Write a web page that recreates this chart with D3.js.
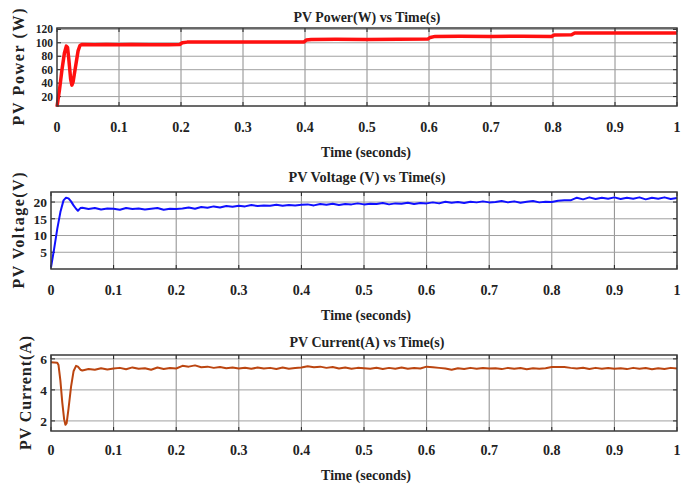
<!DOCTYPE html>
<meta charset="utf-8">
<head>
<style>
  body { margin: 0; background: #fff; }
  svg text { font-family: "Liberation Serif", "Times New Roman", "DejaVu Serif", serif; font-weight: bold; fill: #222; }
</style>
</head>
<svg id="chart" width="686" height="487" font-family="Liberation Serif"></svg>
<script src="https://d3js.org/d3.v7.min.js"></script>
<script>

// x ticks shared by all panels
var timeTicks = [0, 0.1, 0.2, 0.3, 0.4, 0.5, 0.6, 0.7, 0.8, 0.9, 1];

// PV power (W) : [time, value]
var powerData = [
  [0, 5], [0.004, 30], [0.008, 60], [0.012, 85], [0.015, 95], [0.017, 93], [0.019, 76],
  [0.022, 46], [0.024, 37], [0.026, 42], [0.03, 65], [0.034, 88], [0.037, 96], [0.04, 97.5],
  [0.06, 97], [0.08, 97.4], [0.1, 97], [0.12, 97.3], [0.15, 97], [0.18, 97.2], [0.198, 97.5],
  [0.202, 100], [0.21, 101], [0.25, 101.2], [0.3, 101], [0.35, 101.3], [0.398, 101],
  [0.402, 104], [0.41, 105], [0.45, 105.3], [0.5, 105], [0.55, 105.2], [0.598, 105.5],
  [0.602, 108], [0.61, 109.5], [0.65, 109.8], [0.7, 109.5], [0.75, 109.7], [0.798, 109.5],
  [0.802, 111.5], [0.83, 112], [0.835, 114.5], [0.9, 114.7], [0.95, 114.5], [1, 114.6]
];

// PV voltage (V)
var voltageData = [
  [0, 0.5], [0.005, 6], [0.01, 12], [0.015, 17], [0.02, 20.5], [0.024, 21.3], [0.028, 21.1],
  [0.032, 20.2], [0.036, 19], [0.04, 18], [0.043, 17.4], [0.047, 18.2],
  [0.05, 18.3], [0.06, 17.9], [0.07, 18.2], [0.08, 17.8], [0.09, 18.1], [0.1, 18.0],
  [0.11, 17.7], [0.12, 18.2], [0.13, 17.9], [0.14, 18.1], [0.15, 17.8], [0.16, 18.0],
  [0.17, 18.2], [0.18, 17.7], [0.19, 18.0], [0.2, 17.9],
  [0.21, 18.1], [0.22, 18.4], [0.23, 18.0], [0.24, 18.5], [0.25, 18.3], [0.26, 18.7],
  [0.27, 18.4], [0.28, 18.8], [0.29, 18.6], [0.3, 18.9],
  [0.31, 18.7], [0.32, 19.1], [0.33, 18.8], [0.34, 19.0], [0.35, 18.9], [0.36, 19.2],
  [0.37, 18.9], [0.38, 19.1], [0.39, 19.0], [0.4, 19.2],
  [0.41, 19.3], [0.42, 19.0], [0.43, 19.4], [0.44, 19.2], [0.45, 19.5], [0.46, 19.1],
  [0.47, 19.4], [0.48, 19.3], [0.49, 19.6], [0.5, 19.3],
  [0.51, 19.5], [0.52, 19.4], [0.53, 19.7], [0.54, 19.3], [0.55, 19.6], [0.56, 19.5],
  [0.57, 19.8], [0.58, 19.4], [0.59, 19.7], [0.6, 19.6],
  [0.61, 19.9], [0.62, 19.6], [0.63, 20.1], [0.64, 19.8], [0.65, 20.0], [0.66, 19.7],
  [0.67, 20.1], [0.68, 19.9], [0.69, 20.2], [0.7, 19.9],
  [0.71, 20.0], [0.72, 20.3], [0.73, 19.9], [0.74, 20.2], [0.75, 19.8], [0.76, 20.1],
  [0.77, 20.3], [0.78, 19.9], [0.79, 20.1], [0.8, 20.0],
  [0.81, 20.4], [0.82, 20.5], [0.83, 20.5],
  [0.84, 21.3], [0.85, 20.8], [0.86, 21.4], [0.87, 20.9], [0.88, 21.3], [0.89, 21.0],
  [0.9, 21.4], [0.91, 20.9], [0.92, 21.3], [0.93, 21.0], [0.94, 21.4], [0.95, 20.8],
  [0.96, 21.3], [0.97, 21.0], [0.98, 21.4], [0.99, 20.9], [1, 21.2]
];

// PV current (A)
var currentData = [
  [0, 5.78], [0.01, 5.75], [0.012, 5.6], [0.015, 4.6], [0.018, 3.2], [0.021, 2.1],
  [0.023, 1.75], [0.025, 1.85], [0.028, 2.8], [0.032, 4.2], [0.036, 5.2], [0.04, 5.55],
  [0.043, 5.5], [0.047, 5.3], [0.05, 5.25],
  [0.06, 5.35], [0.07, 5.3], [0.08, 5.4], [0.09, 5.32], [0.1, 5.38],
  [0.11, 5.42], [0.12, 5.33], [0.13, 5.45], [0.14, 5.36], [0.15, 5.4], [0.16, 5.3],
  [0.17, 5.44], [0.18, 5.35], [0.19, 5.41], [0.2, 5.38],
  [0.21, 5.55], [0.22, 5.5], [0.23, 5.58], [0.24, 5.46], [0.25, 5.5], [0.26, 5.42],
  [0.27, 5.47], [0.28, 5.4], [0.29, 5.45], [0.3, 5.38],
  [0.31, 5.43], [0.32, 5.36], [0.33, 5.44], [0.34, 5.38], [0.35, 5.42], [0.36, 5.35],
  [0.37, 5.44], [0.38, 5.37], [0.39, 5.41], [0.4, 5.45],
  [0.41, 5.52], [0.42, 5.46], [0.43, 5.5], [0.44, 5.42], [0.45, 5.47], [0.46, 5.38],
  [0.47, 5.44], [0.48, 5.36], [0.49, 5.42], [0.5, 5.4],
  [0.51, 5.36], [0.52, 5.43], [0.53, 5.35], [0.54, 5.42], [0.55, 5.37], [0.56, 5.44],
  [0.57, 5.36], [0.58, 5.41], [0.59, 5.38], [0.6, 5.5],
  [0.61, 5.46], [0.62, 5.42], [0.63, 5.38], [0.64, 5.3], [0.65, 5.4], [0.66, 5.35],
  [0.67, 5.42], [0.68, 5.37], [0.69, 5.41], [0.7, 5.38],
  [0.71, 5.4], [0.72, 5.34], [0.73, 5.42], [0.74, 5.36], [0.75, 5.41], [0.76, 5.33],
  [0.77, 5.4], [0.78, 5.37], [0.79, 5.39], [0.8, 5.48],
  [0.81, 5.48], [0.82, 5.47], [0.83, 5.42], [0.84, 5.38], [0.85, 5.43], [0.86, 5.35],
  [0.87, 5.42], [0.88, 5.36], [0.89, 5.41], [0.9, 5.37],
  [0.91, 5.4], [0.92, 5.34], [0.93, 5.42], [0.94, 5.36], [0.95, 5.41], [0.96, 5.33],
  [0.97, 5.4], [0.98, 5.35], [0.99, 5.42], [1, 5.38]
];

var powerTicks = [20, 40, 60, 80, 100, 120];
var voltageTicks = [5, 10, 15, 20];
var currentTicks = [2, 4, 6];

var svg = d3.select("#chart");

var panels = [
  { data: powerData, ticks: powerTicks, domain: [6, 122], color: "#ff1010",
    left: 57, top: 28, bottom: 106, width: 3.5, yFont: 11.5,
    title: "PV Power(W) vs Time(s)", titleY: 22, titleW: 147,
    ylabel: "PV Power (W)", ylabelX: 24, ylabelW: 117,
    tickY: 132, xlabelY: 157 },
  { data: voltageData, ticks: voltageTicks, domain: [0, 23], color: "#1010ff",
    left: 51, top: 192, bottom: 269, width: 2, yFont: 13.5,
    title: "PV Voltage (V) vs Time(s)", titleY: 182, titleW: 157,
    ylabel: "PV Voltage(V)", ylabelX: 24, ylabelW: 116,
    tickY: 295, xlabelY: 320 },
  { data: currentData, ticks: currentTicks, domain: [1.35, 6.25], color: "#bb4510",
    left: 51, top: 355, bottom: 431, width: 2, yFont: 13.5,
    title: "PV Current(A) vs Time(s)", titleY: 347, titleW: 155,
    ylabel: "PV Current(A)", ylabelX: 31, ylabelW: 114,
    tickY: 455, xlabelY: 480 }
];

var right = 677;

panels.forEach(function(p) {
  var x = d3.scaleLinear().domain([0, 1]).range([p.left, right]);
  var y = d3.scaleLinear().domain(p.domain).range([p.bottom, p.top]);
  var g = svg.append("g");

  // grid
  g.selectAll(".vgrid").data(timeTicks.slice(1, -1)).enter().append("line")
    .attr("x1", function(d) { return x(d); }).attr("x2", function(d) { return x(d); })
    .attr("y1", p.top).attr("y2", p.bottom)
    .attr("stroke", "#8c8c8c").attr("stroke-width", 1);
  g.selectAll(".hgrid").data(p.ticks.filter(function(d) { return y(d) > p.top + 1; })).enter().append("line")
    .attr("x1", p.left).attr("x2", right)
    .attr("y1", function(d) { return y(d); }).attr("y2", function(d) { return y(d); })
    .attr("stroke", "#a0a0a0").attr("stroke-width", 1);

  // inward ticks, all four sides
  var tl = 4;
  timeTicks.forEach(function(t) {
    g.append("line").attr("x1", x(t)).attr("x2", x(t)).attr("y1", p.bottom).attr("y2", p.bottom - tl).attr("stroke", "#222");
    g.append("line").attr("x1", x(t)).attr("x2", x(t)).attr("y1", p.top).attr("y2", p.top + tl).attr("stroke", "#222");
  });
  p.ticks.forEach(function(v) {
    if (y(v) < p.top) return;
    g.append("line").attr("x1", p.left).attr("x2", p.left + tl).attr("y1", y(v)).attr("y2", y(v)).attr("stroke", "#222");
    g.append("line").attr("x1", right).attr("x2", right - tl).attr("y1", y(v)).attr("y2", y(v)).attr("stroke", "#222");
  });

  // the signal
  var line = d3.line().x(function(d) { return x(d[0]); }).y(function(d) { return y(d[1]); });
  g.append("path").datum(p.data)
    .attr("d", line)
    .attr("fill", "none")
    .attr("stroke", p.color)
    .attr("stroke-width", p.width)
    .attr("stroke-linejoin", "round");

  // box
  g.append("rect")
    .attr("x", p.left).attr("y", p.top)
    .attr("width", right - p.left).attr("height", p.bottom - p.top)
    .attr("fill", "none").attr("stroke", "#3a3a3a").attr("stroke-width", 1.5);

  // tick labels
  g.selectAll(".xt").data(timeTicks).enter().append("text")
    .attr("x", function(d) { return x(d); }).attr("y", p.tickY)
    .attr("text-anchor", "middle").style("font-size", "14px")
    .text(function(d) { return d; });
  g.selectAll(".yt").data(p.ticks).enter().append("text")
    .attr("x", p.left - 4).attr("y", function(d) { return y(d) + p.yFont * 0.35; })
    .attr("text-anchor", "end").style("font-size", p.yFont + "px")
    .text(function(d) { return d; });

  // titles
  g.append("text").attr("x", 367).attr("y", p.titleY)
    .attr("text-anchor", "middle").style("font-size", "15px")
    .attr("textLength", p.titleW).attr("lengthAdjust", "spacingAndGlyphs")
    .text(p.title);
  g.append("text").attr("x", 366).attr("y", p.xlabelY)
    .attr("text-anchor", "middle").style("font-size", "15px")
    .attr("textLength", 90).attr("lengthAdjust", "spacingAndGlyphs")
    .text("Time (seconds)");
  var cy = (p.top + p.bottom) / 2;
  g.append("text")
    .attr("transform", "translate(" + p.ylabelX + "," + cy + ") rotate(-90)")
    .attr("text-anchor", "middle").style("font-size", "16px")
    .attr("textLength", p.ylabelW).attr("lengthAdjust", "spacing")
    .text(p.ylabel);
});

</script>
